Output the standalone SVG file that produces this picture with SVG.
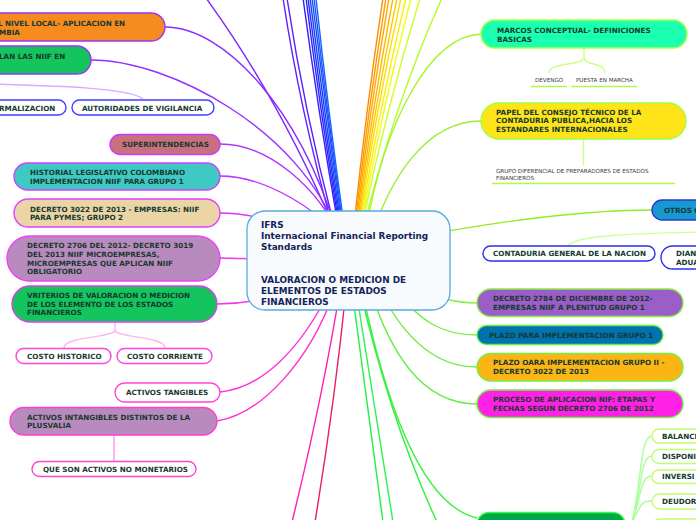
<svg xmlns="http://www.w3.org/2000/svg" width="696" height="520" viewBox="0 0 696 520">
<style>
.t{font-family:"DejaVu Sans",Verdana,sans-serif;font-weight:bold;font-size:7.2px;fill:#163a30}
.s{font-family:"DejaVu Sans",Verdana,sans-serif;font-size:5.6px;fill:#3a3a3a}
.c{font-family:"DejaVu Sans",Verdana,sans-serif;font-weight:bold;font-size:8.9px;fill:#14235a}
.n{stroke-width:1.4}
#connectors path{fill:none;stroke-width:1.4}
</style>
<rect width="696" height="520" fill="#ffffff"/>
<g id="connectors">
<path d="M283,-2 Q300,110 332,225" stroke="#6422ff"/>
<path d="M287,-2 Q304,110 334,225" stroke="#5a20ff"/>
<path d="M303,-2 Q318,110 338,225" stroke="#3a1cff"/>
<path d="M306,-2 Q320,110 339,225" stroke="#2a24ff"/>
<path d="M308,-2 Q322,110 340,225" stroke="#2030ff"/>
<path d="M310,-2 Q324,110 341,225" stroke="#1a40ff"/>
<path d="M312,-2 Q326,110 342,225" stroke="#1a4cff"/>
<path d="M314,-2 Q327,110 343,225" stroke="#1858ff"/>
<path d="M316,-2 Q328,110 344,225" stroke="#1a64ff"/>
<path d="M383,-2 Q366,110 354,225" stroke="#ff8c00"/>
<path d="M386,-2 Q368,110 355,225" stroke="#ff9a00"/>
<path d="M389,-2 Q370,110 356,225" stroke="#ffa800"/>
<path d="M393,-2 Q372,110 357,225" stroke="#ffb600"/>
<path d="M397,-2 Q374,110 358,225" stroke="#ffc800"/>
<path d="M401,-2 Q376,110 359,225" stroke="#ffdc00"/>
<path d="M406,-2 Q379,110 360,225" stroke="#ffee00"/>
<path d="M411,-2 Q382,110 361,225" stroke="#eeff10"/>
<path d="M420,-2 Q386,110 362,225" stroke="#ccff22"/>
<path d="M442,-2 Q396,100 364,225" stroke="#b0ff22"/>
<path d="M481,34 C430,36 385,120 366,230" stroke="#a4f52a"/>
<path d="M481,121 C425,121 390,180 372,235" stroke="#9cf030"/>
<path d="M206,-2 Q280,100 335,230" stroke="#7a2aff"/>
<path d="M165,27 C225,27 300,110 336,230" stroke="#8a2cff"/>
<path d="M91,60 C170,60 300,130 337,232" stroke="#962eff"/>
<path d="M-10,84 C60,86 130,88 143,99" stroke="#d9acff"/>
<path d="M220,144 C270,144 320,190 340,238" stroke="#b034ff"/>
<path d="M220,176 C265,176 320,210 342,242" stroke="#c236ff"/>
<path d="M220,213 C260,213 300,228 345,252" stroke="#d638f5"/>
<path d="M220,258 C260,259 300,260 348,260" stroke="#ea38f0"/>
<path d="M217,304 C260,304 310,290 348,264" stroke="#f236e6"/>
<path d="M220,392 C262,388 300,350 330,290" stroke="#ff34d6"/>
<path d="M217,421 C262,414 310,360 334,292" stroke="#ff30cc"/>
<path d="M115,322 L115,330 C115,338 64,336 64,348" stroke="#ffb4f0"/>
<path d="M115,330 C115,338 165,336 165,348" stroke="#ffb4f0"/>
<path d="M114,435 L114,461" stroke="#ffb4f0" style="stroke-width:2"/>
<path d="M292,522 Q322,400 340,290" stroke="#ff20b0"/>
<path d="M315,522 Q335,400 346,290" stroke="#e6205a"/>
<path d="M383,522 L352,290" stroke="#22ee44"/>
<path d="M393,522 L356,290" stroke="#28f450"/>
<path d="M437,522 Q390,420 360,290" stroke="#30f040"/>
<path d="M477,518 C420,505 385,400 362,290" stroke="#40f040"/>
<path d="M477,404 C420,404 390,350 370,290" stroke="#66ee44"/>
<path d="M477,367 C430,367 400,330 380,290" stroke="#70ee44"/>
<path d="M477,335 C440,335 420,320 395,290" stroke="#7aee44"/>
<path d="M477,303 C455,303 440,298 420,290" stroke="#88ee44"/>
<path d="M400,240 C500,220 590,210 652,210" stroke="#90ee22"/>
<path d="M568,246 C575,236 620,234 700,232" stroke="#ccff99"/>
<path d="M632,522 C642,480 640,436 652,436" stroke="#aaff99"/>
<path d="M632,522 C642,490 640,456 652,456" stroke="#aaff99"/>
<path d="M632,522 C642,495 640,476 652,476" stroke="#aaff99"/>
<path d="M632,522 C642,505 640,501 652,501" stroke="#aaff99"/>
<path d="M584,48 L584,57 C584,66 549,62 549,73" stroke="#ccff88"/>
<path d="M584,57 C584,66 605,62 605,73" stroke="#ccff88"/>
<path d="M583.5,139 L583.5,165" stroke="#ccff88"/>
</g>
<g id="central">
<rect x="247" y="211" width="203" height="99" rx="18" fill="#f8fbfd" stroke="#5aaae0" stroke-width="1.3"/>
<text class="c" x="261" y="228">IFRS</text>
<text class="c" x="261" y="239">Internacional Financial Reporting</text>
<text class="c" x="261" y="250">Standards</text>
<text class="c" x="261" y="283">VALORACION O MEDICION DE</text>
<text class="c" x="261" y="294">ELEMENTOS DE ESTADOS</text>
<text class="c" x="261" y="305">FINANCIEROS</text>
</g>
<g id="n-nivel-local">
<rect class="n" x="-30" y="13" width="195" height="28" rx="14" fill="#f68b1f" stroke="#9a35f5"/>
<text class="t" x="-2" y="26">L NIVEL LOCAL- APLICACION EN</text>
<text class="t" x="-1" y="34.5">MBIA</text>
</g>
<g id="n-niif-en">
<rect class="n" x="-30" y="46" width="121" height="28" rx="14" fill="#14c45c" stroke="#9a35f5"/>
<text class="t" x="-1" y="59">LAN LAS NIIF EN</text>
</g>
<g id="n-normalizacion">
<rect class="n" x="-30" y="100" width="96" height="15" rx="7.5" fill="#ffffff" stroke="#4040ff"/>
<text class="t" x="-1" y="111">RMALIZACION</text>
</g>
<g id="n-autoridades">
<rect class="n" x="72" y="100" width="142" height="15" rx="7.5" fill="#ffffff" stroke="#4040ff"/>
<text class="t" x="82" y="111">AUTORIDADES DE VIGILANCIA</text>
</g>
<g id="n-super">
<rect class="n" x="110" y="134.5" width="110" height="20" rx="10" fill="#c8707e" stroke="#c83cff"/>
<text class="t" x="122" y="147">SUPERINTENDENCIAS</text>
</g>
<g id="n-historial">
<rect class="n" x="14" y="163" width="206" height="27" rx="13.5" fill="#3ec9c2" stroke="#d040ff"/>
<text class="t" x="30" y="175">HISTORIAL LEGISLATIVO COLOMBIANO</text>
<text class="t" x="30" y="184">IMPLEMENTACION NIIF PARA GRUPO 1</text>
</g>
<g id="n-decreto3022">
<rect class="n" x="14" y="199" width="206" height="28" rx="14" fill="#ebd5a6" stroke="#e040ff"/>
<text class="t" x="30" y="211.5">DECRETO 3022 DE 2013 - EMPRESAS: NIIF</text>
<text class="t" x="30" y="220">PARA PYMES; GRUPO 2</text>
</g>
<g id="n-decreto2706">
<rect class="n" x="7" y="236" width="213" height="45" rx="22.5" fill="#b98abd" stroke="#f040f5"/>
<text class="t" x="27" y="248">DECRETO 2706 DEL 2012- DECRETO 3019</text>
<text class="t" x="27" y="257">DEL 2013 NIIF MICROEMPRESAS,</text>
<text class="t" x="27" y="265.5">MICROEMPRESAS QUE APLICAN NIIF</text>
<text class="t" x="27" y="274">OBLIGATORIO</text>
</g>
<g id="n-criterios">
<rect class="n" x="12" y="286" width="205" height="36" rx="18" fill="#14c45c" stroke="#e040ee"/>
<text class="t" x="27" y="297.5">VRITERIOS DE VALORACION O MEDICION</text>
<text class="t" x="27" y="306.5">DE LOS ELEMENTO DE LOS ESTADOS</text>
<text class="t" x="27" y="315">FINANCIEROS</text>
</g>
<g id="n-costo-historico">
<rect class="n" x="16" y="348.5" width="95" height="15" rx="7.5" fill="#ffffff" stroke="#ff44e0"/>
<text class="t" x="27" y="359">COSTO HISTORICO</text>
</g>
<g id="n-costo-corriente">
<rect class="n" x="117" y="348.5" width="95" height="15" rx="7.5" fill="#ffffff" stroke="#ff44e0"/>
<text class="t" x="127" y="359">COSTO CORRIENTE</text>
</g>
<g id="n-activos-tangibles">
<rect class="n" x="115" y="383" width="105" height="19" rx="9.5" fill="#ffffff" stroke="#ff44d8"/>
<text class="t" x="126" y="395">ACTIVOS TANGIBLES</text>
</g>
<g id="n-intangibles">
<rect class="n" x="10" y="407.5" width="207" height="27.5" rx="13.75" fill="#b98abd" stroke="#ff40d0"/>
<text class="t" x="27" y="420">ACTIVOS INTANGIBLES DISTINTOS DE LA</text>
<text class="t" x="27" y="428">PLUSVALIA</text>
</g>
<g id="n-no-monetarios">
<rect class="n" x="32" y="461.5" width="164" height="15" rx="7.5" fill="#ffffff" stroke="#ff44d0"/>
<text class="t" x="43" y="472">QUE SON ACTIVOS NO MONETARIOS</text>
</g>
<g id="n-marcos">
<rect class="n" x="481" y="20" width="206" height="28" rx="14" fill="#1affb0" stroke="#b0ff40"/>
<text class="t" x="497" y="33">MARCOS CONCEPTUAL- DEFINICIONES</text>
<text class="t" x="497" y="41.5">BASICAS</text>
</g>
<g id="n-devengo">
<text class="s" x="535" y="82">DEVENGO</text>
<path d="M531,86.5 H567" stroke="#aaff44" stroke-width="1.5"/>
</g>
<g id="n-puesta">
<text class="s" x="576" y="82">PUESTA EN MARCHA</text>
<path d="M571.5,86.5 H637" stroke="#aaff44" stroke-width="1.5"/>
</g>
<g id="n-papel">
<rect class="n" x="481" y="103" width="205" height="36" rx="18" fill="#ffe41a" stroke="#a0ff40"/>
<text class="t" x="496" y="114.5">PAPEL DEL CONSEJO TÉCNICO DE LA</text>
<text class="t" x="496" y="123">CONTADURIA PUBLICA,HACIA LOS</text>
<text class="t" x="496" y="131.5">ESTANDARES INTERNACIONALES</text>
</g>
<g id="n-grupo-diferencial">
<text class="s" x="496" y="173">GRUPO DIFERENCIAL DE PREPARADORES DE ESTADOS</text>
<text class="s" x="496" y="180">FINANCIEROS</text>
<path d="M492,183.5 H675" stroke="#aaff44" stroke-width="1.5"/>
</g>
<g id="n-otros">
<rect class="n" x="652" y="200" width="80" height="20" rx="10" fill="#1898d0" stroke="#2a3acc"/>
<text class="t" x="664" y="212.5">OTROS C</text>
</g>
<g id="n-contaduria">
<rect class="n" x="483" y="246" width="172" height="15" rx="7.5" fill="#ffffff" stroke="#2a30ee"/>
<text class="t" x="493" y="256">CONTADURIA GENERAL DE LA NACION</text>
</g>
<g id="n-dian">
<rect class="n" x="661" y="246" width="70" height="23" rx="11.5" fill="#ffffff" stroke="#2a30ee"/>
<text class="t" x="676" y="256">DIAN</text>
<text class="t" x="676" y="265">ADUA</text>
</g>
<g id="n-decreto2784">
<rect class="n" x="477" y="289" width="206" height="27.5" rx="13.75" fill="#9b5dc8" stroke="#88ee44"/>
<text class="t" x="493" y="301">DECRETO 2784 DE DICIEMBRE DE 2012-</text>
<text class="t" x="493" y="310">EMPRESAS NIIF A PLENITUD GRUPO 1</text>
</g>
<g id="n-plazo1">
<rect class="n" x="477" y="325.5" width="186" height="19" rx="9.5" fill="#0072b0" stroke="#66ee44"/>
<text class="t" x="489" y="338">PLAZO PARA IMPLEMENTACION GRUPO 1</text>
</g>
<g id="n-plazo2">
<rect class="n" x="477" y="353.5" width="206" height="27.5" rx="13.75" fill="#fbb514" stroke="#77ee44"/>
<text class="t" x="493" y="365">PLAZO OARA IMPLEMENTACION GRUPO II -</text>
<text class="t" x="493" y="373.5">DECRETO 3022 DE 2013</text>
</g>
<g id="n-proceso">
<rect class="n" x="477" y="390" width="206" height="27.5" rx="13.75" fill="#ff22e6" stroke="#77ee44"/>
<text class="t" x="493" y="401.5">PROCESO DE APLICACION NIF: ETAPAS Y</text>
<text class="t" x="493" y="410.5">FECHAS SEGUN DECRETO 2706 DE 2012</text>
</g>
<g id="n-bottom-green">
<rect class="n" x="477" y="512.5" width="148" height="30" rx="12" fill="#00a848" stroke="#33ff44"/>
</g>
<g id="n-balance">
<rect class="n" x="652" y="429" width="70" height="14" rx="7" fill="#ffffff" stroke="#c0ff70"/>
<text class="t" x="662" y="438.5">BALANCE</text>
</g>
<g id="n-disponible">
<rect class="n" x="652" y="449.5" width="70" height="14" rx="7" fill="#ffffff" stroke="#c0ff70"/>
<text class="t" x="662" y="459">DISPONI</text>
</g>
<g id="n-inversiones">
<rect class="n" x="652" y="470" width="70" height="13.5" rx="6.75" fill="#ffffff" stroke="#c0ff70"/>
<text class="t" x="662" y="479">INVERSI</text>
</g>
<g id="n-deudores">
<rect class="n" x="652" y="494" width="70" height="15" rx="7.5" fill="#ffffff" stroke="#c0ff70"/>
<text class="t" x="662" y="504">DEUDOR</text>
</g>
<g id="n-next">
<rect class="n" x="652" y="519" width="70" height="15" rx="7.5" fill="#ffffff" stroke="#c0ff70"/>
</g>
</svg>
